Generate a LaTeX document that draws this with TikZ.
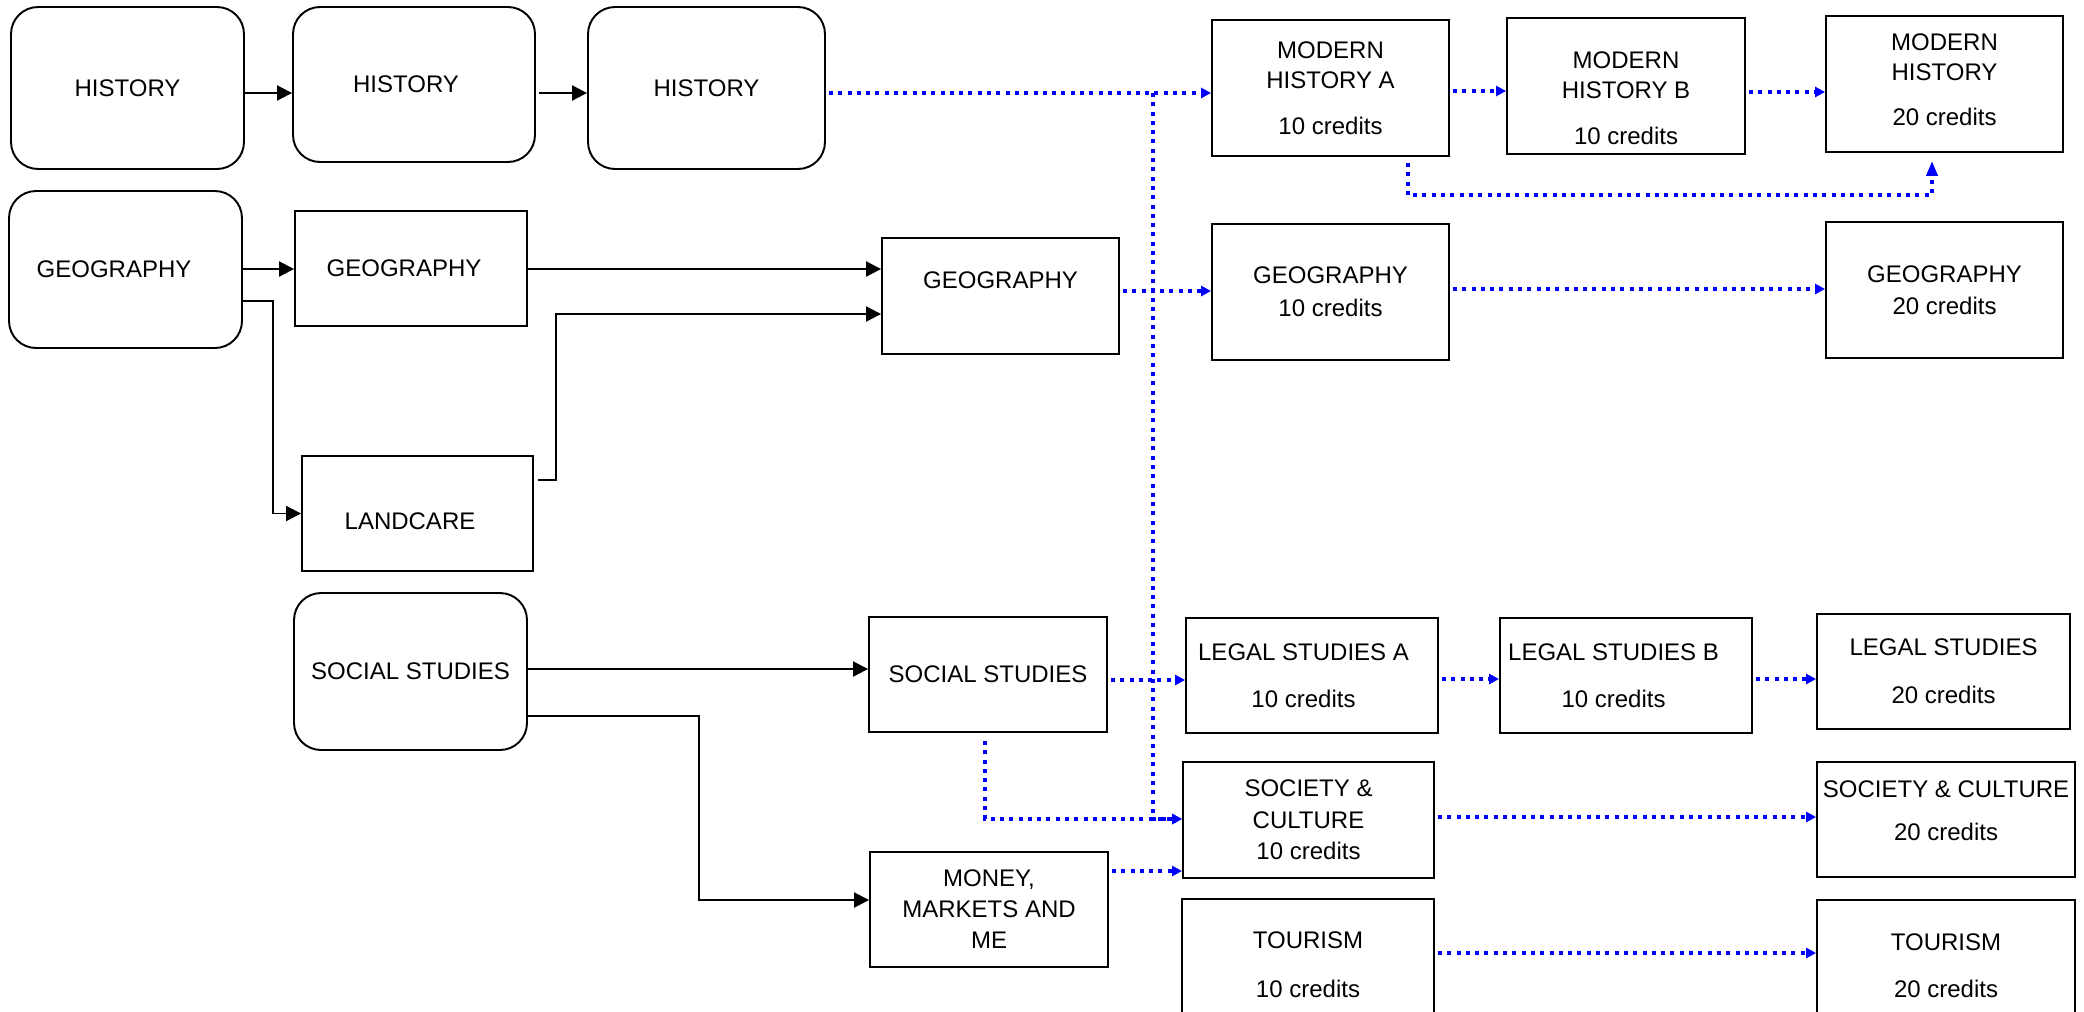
\documentclass[tikz,border=0pt]{standalone}
\usepackage{fontspec}
\setmainfont{Liberation Sans}
\usetikzlibrary{arrows.meta}

\begin{document}
\begin{tikzpicture}[x=0.02cm,y=-0.02cm,
    font=\fontsize{13.66}{17.07}\selectfont,
    box/.style={draw,line width=1.1pt,inner sep=2pt,align=center},
    rbox/.style={box,rounded corners=0.54cm},
    link/.style={-{Triangle[length=0.3cm,width=0.3cm]},line width=1.1pt},
    route/.style={-{Triangle[length=0.2cm,width=0.2cm]},blue,line width=2.3pt,
      dash pattern=on 0.08cm off 0.106cm,shorten <=0.06cm}]
  \useasboundingbox (0,0) rectangle (2084,1011);
  \clip (0,0) rectangle (2084,1011);

  % junior courses
  \node[rbox,minimum width=4.66cm,minimum height=3.24cm] (hist1) at (127.5,88) {HISTORY};
  \node[rbox,minimum width=4.84cm,minimum height=3.10cm] (hist2) at (414,84.5) {HISTORY\hspace*{0.32cm}};
  \node[rbox,minimum width=4.74cm,minimum height=3.24cm] (hist3) at (706.5,88) {HISTORY};
  \node[rbox,minimum width=4.66cm,minimum height=3.14cm] (geo1) at (125.5,269.5) {GEOGRAPHY\hspace*{0.46cm}};
  \node[box,minimum width=4.64cm,minimum height=2.30cm] (geo2) at (411,268.5) {GEOGRAPHY\hspace*{0.28cm}};
  \node[box,minimum width=4.62cm,minimum height=2.30cm,text height=0.644cm] (land) at (417.5,513.5) {LANDCARE\hspace*{0.3cm}};
  \node[rbox,minimum width=4.66cm,minimum height=3.14cm] (ss1) at (410.5,671.5) {SOCIAL STUDIES};

  % middle column
  \node[box,minimum width=4.74cm,minimum height=2.32cm,text depth=0.64cm] (geo3) at (1000.5,296) {GEOGRAPHY};
  \node[box,minimum width=4.76cm,minimum height=2.30cm] (ss2) at (988,674.5) {SOCIAL STUDIES};
  \node[box,minimum width=4.76cm,minimum height=2.30cm] (money) at (989,909.5) {MONEY,\\[0.02cm]MARKETS AND\\[0.02cm]ME};

  % 10 credit courses
  \node[box,minimum width=4.74cm,minimum height=2.72cm] (mha) at (1330.5,88) {MODERN\\HISTORY A\\[0.32cm]10 credits};
  \node[box,minimum width=4.76cm,minimum height=2.72cm,text height=2.33cm] (mhb) at (1626,86) {MODERN\\HISTORY B\\[0.32cm]10 credits};
  \node[box,minimum width=4.74cm,minimum height=2.72cm] (geoa) at (1330.5,292) {GEOGRAPHY\\[0.06cm]10 credits};
  \node[box,minimum width=5.04cm,minimum height=2.30cm] (lsa) at (1312,675.5) {LEGAL STUDIES A\hspace*{0.34cm}\\[0.34cm]10 credits\hspace*{0.34cm}};
  \node[box,minimum width=5.04cm,minimum height=2.30cm] (lsb) at (1626,675.5) {LEGAL STUDIES B\hspace*{0.5cm}\\[0.34cm]10 credits\hspace*{0.5cm}};
  \node[box,minimum width=5.02cm,minimum height=2.32cm] (sca) at (1308.5,820) {SOCIETY \&\\[0.04cm]CULTURE\\[0.02cm]10 credits};
  \node[box,minimum width=5.04cm,minimum height=2.64cm] (toa) at (1308,965) {TOURISM\\[0.38cm]10 credits};

  % 20 credit courses
  \node[box,minimum width=4.74cm,minimum height=2.72cm,text depth=0.18cm] (mh) at (1944.5,84) {MODERN\\HISTORY\\[0.3cm]20 credits};
  \node[box,minimum width=4.74cm,minimum height=2.72cm] (geob) at (1944.5,290) {GEOGRAPHY\\[0.04cm]20 credits};
  \node[box,minimum width=5.06cm,minimum height=2.30cm] (ls) at (1943.5,671.5) {LEGAL STUDIES\\[0.36cm]20 credits};
  \node[box,minimum width=5.16cm,minimum height=2.30cm,text depth=0.34cm] (scb) at (1946,819.5) {SOCIETY \& CULTURE\\[0.26cm]20 credits};
  \node[box,minimum width=5.16cm,minimum height=2.64cm] (tob) at (1946,966) {TOURISM\\[0.34cm]20 credits};

  % solid links
  \draw[link] (hist1.east |- 0,93) -- (hist2.west |- 0,93);
  \draw[link,shorten <=0.06cm] (hist2.east |- 0,93) -- (hist3.west |- 0,93);
  \draw[link] (geo1.east |- 0,269) -- (geo2.west |- 0,269);
  \draw[link] (geo1.east |- 0,301) -- (273,301) |- (land.west);
  \draw[link] (geo2.east |- 0,269) -- (geo3.west |- 0,269);
  \draw[link,shorten <=0.08cm] (land.east |- 0,480) -- (556,480) |- (geo3.west |- 0,314);
  \draw[link] (ss1.east |- 0,669) -- (ss2.west |- 0,669);
  \draw[link] (ss1.east |- 0,716) -- (699,716) |- (money.west |- 0,900);

  % dotted routes
  \coordinate (fork) at (1153,93);
  \draw[route] (hist3.east |- 0,93) -- (mha.west |- 0,93);
  \draw[route,shorten <=0pt] (fork) -- (1153,819) -- (sca.west |- 0,819);
  \draw[route] (mha.east |- 0,91) -- (mhb.west |- 0,91);
  \draw[route] (mhb.east |- 0,92) -- (mh.west |- 0,92);
  \draw[route,-{Triangle[length=0.3cm,width=0.22cm]},shorten <=0.12cm,shorten >=0.16cm]
    (mha.south -| 1408,0) -- (1408,195) -| (mh.south -| 1932,0);
  \draw[route] (geo3.east |- 0,291) -- (geoa.west |- 0,291);
  \draw[route] (geoa.east |- 0,289) -- (geob.west |- 0,289);
  \draw[route] (ss2.east |- 0,680) -- (lsa.west |- 0,680);
  \draw[route] (lsa.east |- 0,679) -- (lsb.west |- 0,679);
  \draw[route] (lsb.east |- 0,679) -- (ls.west |- 0,679);
  \draw[route,shorten <=0.16cm] (ss2.south -| 985,0) -- (985,819) -- (sca.west |- 0,819);
  \draw[route] (money.east |- 0,871) -- (sca.west |- 0,871);
  \draw[route] (sca.east |- 0,817) -- (scb.west |- 0,817);
  \draw[route] (toa.east |- 0,953) -- (tob.west |- 0,953);
\end{tikzpicture}
\end{document}
